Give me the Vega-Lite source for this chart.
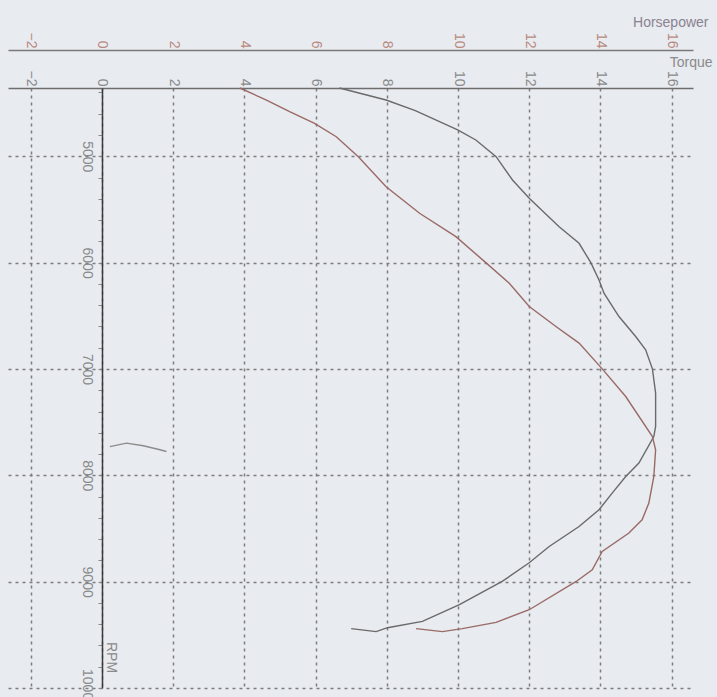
{
  "$schema": "https://vega.github.io/schema/vega-lite/v6.json",
  "width": 685,
  "height": 600,
  "autosize": {"type": "none"},
  "padding": {"left": 8, "top": 88, "right": 24, "bottom": 9},
  "background": "#e8ebf0",
  "config": {"view": {"stroke": null}, "font": "Liberation Sans"},
  "data": {"values": [
    {"series": "Torque", "i": 0, "rpm": 4358, "value": 6.67},
    {"series": "Torque", "i": 1, "rpm": 4471, "value": 7.98},
    {"series": "Torque", "i": 2, "rpm": 4570, "value": 8.8},
    {"series": "Torque", "i": 3, "rpm": 4752, "value": 9.99},
    {"series": "Torque", "i": 4, "rpm": 4847, "value": 10.5},
    {"series": "Torque", "i": 5, "rpm": 5004, "value": 11.07},
    {"series": "Torque", "i": 6, "rpm": 5223, "value": 11.53},
    {"series": "Torque", "i": 7, "rpm": 5395, "value": 12.0},
    {"series": "Torque", "i": 8, "rpm": 5662, "value": 12.84},
    {"series": "Torque", "i": 9, "rpm": 5818, "value": 13.4},
    {"series": "Torque", "i": 10, "rpm": 6000, "value": 13.73},
    {"series": "Torque", "i": 11, "rpm": 6163, "value": 13.96},
    {"series": "Torque", "i": 12, "rpm": 6288, "value": 14.1},
    {"series": "Torque", "i": 13, "rpm": 6507, "value": 14.52},
    {"series": "Torque", "i": 14, "rpm": 6695, "value": 14.99},
    {"series": "Torque", "i": 15, "rpm": 6820, "value": 15.27},
    {"series": "Torque", "i": 16, "rpm": 6999, "value": 15.46},
    {"series": "Torque", "i": 17, "rpm": 7227, "value": 15.55},
    {"series": "Torque", "i": 18, "rpm": 7541, "value": 15.55},
    {"series": "Torque", "i": 19, "rpm": 7635, "value": 15.5},
    {"series": "Torque", "i": 20, "rpm": 7885, "value": 15.08},
    {"series": "Torque", "i": 21, "rpm": 8011, "value": 14.71},
    {"series": "Torque", "i": 22, "rpm": 8167, "value": 14.33},
    {"series": "Torque", "i": 23, "rpm": 8324, "value": 13.96},
    {"series": "Torque", "i": 24, "rpm": 8481, "value": 13.4},
    {"series": "Torque", "i": 25, "rpm": 8669, "value": 12.56},
    {"series": "Torque", "i": 26, "rpm": 8822, "value": 12.0},
    {"series": "Torque", "i": 27, "rpm": 8998, "value": 11.24},
    {"series": "Torque", "i": 28, "rpm": 9217, "value": 10.04},
    {"series": "Torque", "i": 29, "rpm": 9374, "value": 9.0},
    {"series": "Torque", "i": 30, "rpm": 9433, "value": 8.02},
    {"series": "Torque", "i": 31, "rpm": 9470, "value": 7.7},
    {"series": "Torque", "i": 32, "rpm": 9442, "value": 7.0},
    {"series": "Horsepower", "i": 0, "rpm": 4358, "value": 3.87},
    {"series": "Horsepower", "i": 1, "rpm": 4471, "value": 4.62},
    {"series": "Horsepower", "i": 2, "rpm": 4581, "value": 5.27},
    {"series": "Horsepower", "i": 3, "rpm": 4690, "value": 5.97},
    {"series": "Horsepower", "i": 4, "rpm": 4816, "value": 6.58},
    {"series": "Horsepower", "i": 5, "rpm": 5004, "value": 7.2},
    {"series": "Horsepower", "i": 6, "rpm": 5286, "value": 7.98},
    {"series": "Horsepower", "i": 7, "rpm": 5536, "value": 8.92},
    {"series": "Horsepower", "i": 8, "rpm": 5756, "value": 9.94},
    {"series": "Horsepower", "i": 9, "rpm": 6000, "value": 10.78},
    {"series": "Horsepower", "i": 10, "rpm": 6194, "value": 11.44},
    {"series": "Horsepower", "i": 11, "rpm": 6413, "value": 12.0},
    {"series": "Horsepower", "i": 12, "rpm": 6601, "value": 12.75},
    {"series": "Horsepower", "i": 13, "rpm": 6757, "value": 13.4},
    {"series": "Horsepower", "i": 14, "rpm": 6999, "value": 14.05},
    {"series": "Horsepower", "i": 15, "rpm": 7259, "value": 14.71},
    {"series": "Horsepower", "i": 16, "rpm": 7635, "value": 15.46},
    {"series": "Horsepower", "i": 17, "rpm": 7760, "value": 15.55},
    {"series": "Horsepower", "i": 18, "rpm": 8011, "value": 15.5},
    {"series": "Horsepower", "i": 19, "rpm": 8261, "value": 15.36},
    {"series": "Horsepower", "i": 20, "rpm": 8418, "value": 15.17},
    {"series": "Horsepower", "i": 21, "rpm": 8543, "value": 14.8},
    {"series": "Horsepower", "i": 22, "rpm": 8716, "value": 14.05},
    {"series": "Horsepower", "i": 23, "rpm": 8888, "value": 13.77},
    {"series": "Horsepower", "i": 24, "rpm": 8998, "value": 13.32},
    {"series": "Horsepower", "i": 25, "rpm": 9264, "value": 12.0},
    {"series": "Horsepower", "i": 26, "rpm": 9383, "value": 11.07},
    {"series": "Horsepower", "i": 27, "rpm": 9442, "value": 10.12},
    {"series": "Horsepower", "i": 28, "rpm": 9470, "value": 9.56},
    {"series": "Horsepower", "i": 29, "rpm": 9442, "value": 8.82},
    {"series": "Other", "i": 0, "rpm": 7730, "value": 0.22},
    {"series": "Other", "i": 1, "rpm": 7697, "value": 0.69},
    {"series": "Other", "i": 2, "rpm": 7722, "value": 1.16},
    {"series": "Other", "i": 3, "rpm": 7760, "value": 1.63},
    {"series": "Other", "i": 4, "rpm": 7776, "value": 1.81}
  ]},
  "encoding": {
    "y": {
      "field": "rpm", "type": "quantitative",
      "scale": {"domain": [4358, 10000], "nice": false, "zero": false, "reverse": true},
      "axis": {
        "values": [4400, 4600, 4800, 5000, 5200, 5400, 5600, 5800, 6000, 6200, 6400, 6600, 6800, 7000, 7200, 7400, 7600, 7800, 8000, 8200, 8400, 8600, 8800, 9000, 9200, 9400, 9600, 9800, 10000],
        "format": "d",
        "labelExpr": "datum.value % 1000 === 0 ? datum.label : ''",
        "offset": -94,
        "domainColor": "#3a3a3a",
        "domainWidth": 1.5,
        "ticks": true,
        "tickSize": 4,
        "tickColor": "#8a8a8a",
        "grid": true,
        "gridDash": [3, 4],
        "gridColor": "#7d7d7d",
        "gridWidth": 1.5,
        "gridOpacity": {"condition": {"test": "datum.value % 1000 === 0", "value": 1}, "value": 0},
        "labelAngle": 90,
        "labelAlign": "center",
        "labelBaseline": "top",
        "labelPadding": 5,
        "labelFontSize": 14,
        "labelColor": "#8a8a8a",
        "labelOverlap": false,
        "labelFlush": false,
        "labelBound": false,
        "title": "RPM",
        "titleX": 4,
        "titleY": 569,
        "titleAngle": 90,
        "titleAlign": "center",
        "titleBaseline": "alphabetic",
        "titleFontSize": 14,
        "titleFontWeight": "normal",
        "titleColor": "#8a8a8a"
      }
    }
  },
  "layer": [
    {
      "mark": {"type": "line", "strokeWidth": 1.4},
      "encoding": {
        "x": {
          "field": "value", "type": "quantitative",
          "scale": {"domain": [-2.64, 16.6], "nice": false, "zero": false},
          "axis": {
            "orient": "top",
            "values": [-2, 0, 2, 4, 6, 8, 10, 12, 14, 16],
            "domainColor": "#6e6e6e",
            "domainWidth": 1.5,
            "ticks": false,
            "grid": true,
            "gridDash": [3, 4],
            "gridColor": "#7d7d7d",
            "gridWidth": 1.5,
            "labelAngle": 90,
            "labelAlign": "right",
            "labelBaseline": "middle",
            "labelPadding": 2,
            "labelFontSize": 14,
            "labelColor": "#8a8a8a",
            "labelOverlap": false,
            "labelFlush": false,
            "title": "Torque",
            "titleX": 704,
            "titleY": -22,
            "titleAngle": 0,
            "titleAlign": "right",
            "titleBaseline": "alphabetic",
            "titleFontSize": 14,
            "titleFontWeight": "normal",
            "titleColor": "#8a8a8a"
          }
        },
        "color": {
          "field": "series", "type": "nominal",
          "scale": {"domain": ["Torque", "Horsepower", "Other"], "range": ["#6a6a6a", "#9a6a66", "#8c8c8c"]},
          "legend": null
        },
        "order": {"field": "i", "type": "quantitative"}
      }
    },
    {
      "mark": {"type": "point", "opacity": 0},
      "encoding": {
        "x": {
          "field": "value", "type": "quantitative",
          "scale": {"domain": [-2.64, 16.6], "nice": false, "zero": false},
          "axis": {
            "orient": "top",
            "offset": 38,
            "values": [-2, 0, 2, 4, 6, 8, 10, 12, 14, 16],
            "domainColor": "#7a7a7a",
            "domainWidth": 1.5,
            "ticks": false,
            "grid": false,
            "labelAngle": 90,
            "labelAlign": "right",
            "labelBaseline": "middle",
            "labelPadding": 2,
            "labelFontSize": 14,
            "labelColor": "#b98a80",
            "labelOverlap": false,
            "labelFlush": false,
            "title": "Horsepower",
            "titleX": 700,
            "titleY": -24,
            "titleAngle": 0,
            "titleAlign": "right",
            "titleBaseline": "alphabetic",
            "titleFontSize": 14,
            "titleFontWeight": "normal",
            "titleColor": "#8a8290"
          }
        }
      }
    }
  ],
  "resolve": {"scale": {"x": "independent"}}
}
